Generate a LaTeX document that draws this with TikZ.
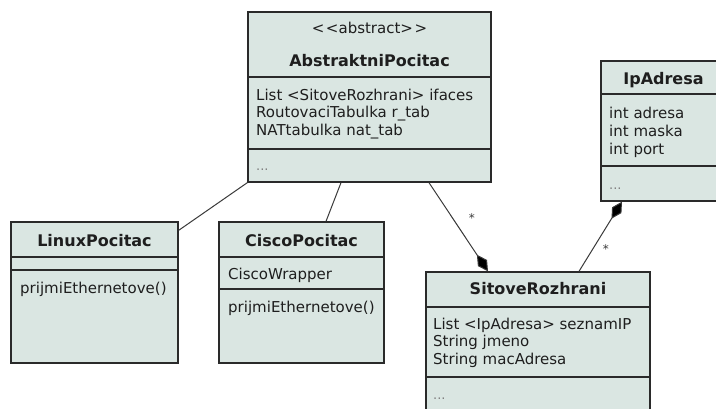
\documentclass[tikz,border=0pt]{standalone}
\usepackage{fontspec}
\setmainfont{DejaVu Sans}
\usetikzlibrary{arrows.meta}
\definecolor{boxfill}{HTML}{DAE6E2}
\definecolor{boxline}{HTML}{2A2A2A}
\definecolor{txtcol}{HTML}{1E1E1E}
\definecolor{linkcol}{HTML}{3A3A3A}
\tikzset{comp/.tip={Diamond[length=20pt,width=11pt,fill=black]}}
\begin{document}
\begin{tikzpicture}[x=1pt,y=-1pt,
  umlbox/.style={draw=boxline, fill=boxfill, line width=1.3pt, inner sep=0pt, rectangle},
  sepline/.style={draw=boxline, line width=1.3pt},
  attr/.style={anchor=base west, inner sep=0pt, text=txtcol, font=\fontsize{15}{17.5}\selectfont},
  ttl/.style={anchor=base, inner sep=0pt, text=txtcol, font=\fontsize{16}{18}\selectfont\bfseries},
  stereo/.style={anchor=base, inner sep=0pt, text=txtcol, font=\fontsize{15}{17.5}\selectfont},
  dots/.style={anchor=base west, inner sep=0pt, text=gray, font=\fontsize{13}{15}\selectfont},
  link/.style={draw=linkcol, line width=1pt},
  mult/.style={inner sep=0pt, text=linkcol, font=\fontsize{12}{13}\selectfont}]
\useasboundingbox[fill=white] (0,0) rectangle (716,408);
% boxes
\node[umlbox, minimum width=243pt, minimum height=170pt] (abs) at (369.5,97) {};
\node[umlbox, minimum width=167pt, minimum height=141pt] (lin) at (94.5,292.5) {};
\node[umlbox, minimum width=165pt, minimum height=141pt] (cis) at (301.5,292.5) {};
\node[umlbox, minimum width=125pt, minimum height=140pt] (ip) at (663.5,131) {};
\node[umlbox, minimum width=224pt, minimum height=158pt] (sit) at (538,351) {};
% separators
\draw[sepline] (abs.west |- 0,77) -- (abs.east |- 0,77);
\draw[sepline] (abs.west |- 0,149) -- (abs.east |- 0,149);
\draw[sepline] (lin.west |- 0,257) -- (lin.east |- 0,257);
\draw[sepline] (lin.west |- 0,270) -- (lin.east |- 0,270);
\draw[sepline] (cis.west |- 0,257) -- (cis.east |- 0,257);
\draw[sepline] (cis.west |- 0,289) -- (cis.east |- 0,289);
\draw[sepline] (ip.west |- 0,94) -- (ip.east |- 0,94);
\draw[sepline] (ip.west |- 0,166) -- (ip.east |- 0,166);
\draw[sepline] (sit.west |- 0,307) -- (sit.east |- 0,307);
\draw[sepline] (sit.west |- 0,377) -- (sit.east |- 0,377);
% AbstraktniPocitac
\node[stereo] (absst) at (369.5,33) {<\kern1.5pt<abstract>\kern1.5pt>};
\node[ttl] (absttl) at (369.5,66) {AbstraktniPocitac};
\node[attr] (absa1) at (256,100) {List <SitoveRozhrani> ifaces};
\node[attr] (absa2) at (256,117.5) {RoutovaciTabulka r\_tab};
\node[attr] (absa3) at (256,135) {NATtabulka nat\_tab};
\node[dots] (absop) at (256,170) {...};
% LinuxPocitac
\node[ttl] (linttl) at (94.5,246) {LinuxPocitac};
\node[attr] (linm) at (20,293) {prijmiEthernetove()};
% CiscoPocitac
\node[ttl] (cisttl) at (301.5,246) {CiscoPocitac};
\node[attr] (cisa) at (228,279) {CiscoWrapper};
\node[attr] (cism) at (228,312) {prijmiEthernetove()};
% IpAdresa
\node[ttl] (ipttl) at (663.5,84) {IpAdresa};
\node[attr] (ipa1) at (609,118) {int adresa};
\node[attr] (ipa2) at (609,136) {int maska};
\node[attr] (ipa3) at (609,154) {int port};
\node[dots] (ipop) at (609,189) {...};
% SitoveRozhrani
\node[ttl] (sitttl) at (538,294) {SitoveRozhrani};
\node[attr] (sita1) at (433,329) {List <IpAdresa> seznamIP};
\node[attr] (sita2) at (433,346.5) {String jmeno};
\node[attr] (sita3) at (433,364) {String macAdresa};
\node[dots] (sitop) at (433,399) {...};
% connectors
\draw[link] (abs.south west) -- ([yshift=-9pt]lin.north east);
\draw[link] ([xshift=-28.5pt]abs.south) -- ([xshift=24.5pt]cis.north);
\draw[link, -comp] ([xshift=59.5pt]abs.south) -- node[mult, pos=0.42, xshift=18pt, yshift=2pt] {*} ([xshift=-50pt]sit.north);
\draw[link, comp-] ([xshift=-41.5pt]ip.south) -- node[mult, pos=0.69, xshift=13.5pt, yshift=1pt] {*} ([xshift=41pt]sit.north);
\end{tikzpicture}
\end{document}
